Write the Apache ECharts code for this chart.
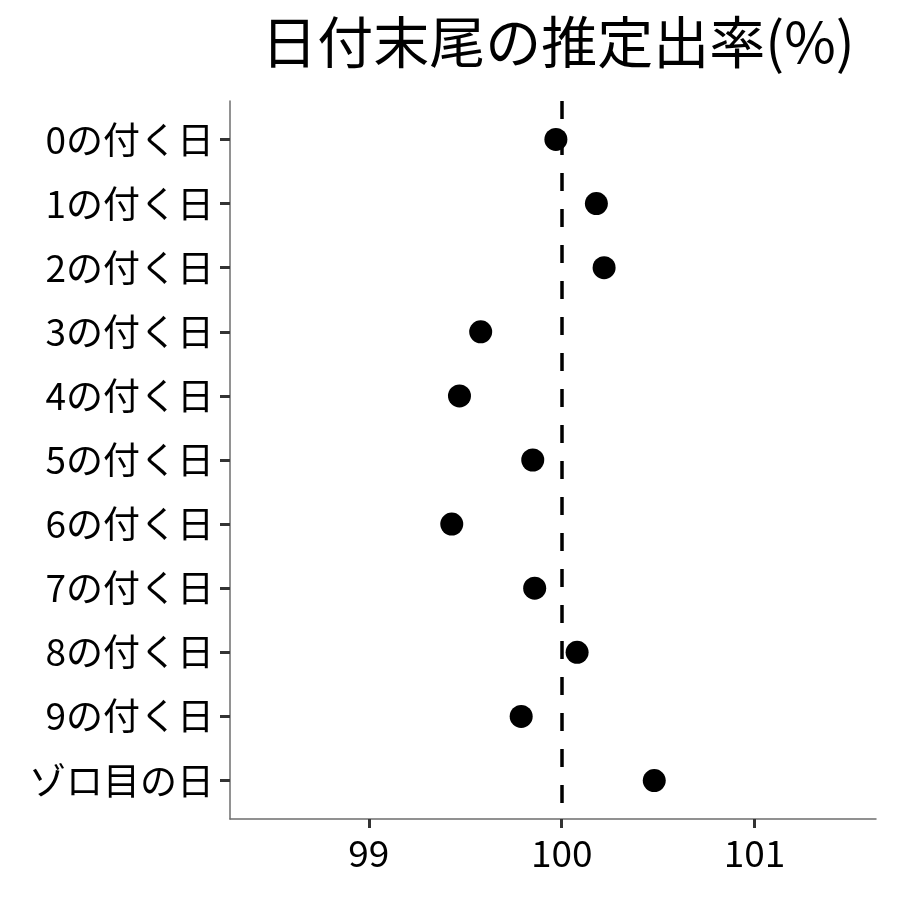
<!DOCTYPE html>
<html>
<head>
<meta charset="utf-8">
<script src="https://cdn.jsdelivr.net/npm/echarts@6/dist/echarts.min.js"></script>
<style>
html,body{margin:0;padding:0;background:#fff;}
#main{width:900px;height:900px;}
</style>
</head>
<body>
<div id="main"></div>
<script>
// カテゴリ（上から順）
var categories = ['0の付く日','1の付く日','2の付く日','3の付く日','4の付く日','5の付く日','6の付く日','7の付く日','8の付く日','9の付く日','ゾロ目の日'];
// 推定出率(%)
var rates = [99.97, 100.18, 100.22, 99.58, 99.47, 99.85, 99.43, 99.86, 100.08, 99.79, 100.48];
var xTicks = [99, 100, 101];
var refLine = 100;

var pts = [];
for (var i = 0; i < rates.length; i++) {
    pts.push([rates[i], i]);
}
var yIdx = categories.map(function (c, i) { return i; });

var font = '"Noto Sans CJK JP", "Noto Sans", sans-serif';
var myChart = echarts.init(document.getElementById('main'));
myChart.setOption({
    backgroundColor: '#fff',
    animation: false,
    title: {
        text: '日付末尾の推定出率(%)',
        left: 553,
        textAlign: 'center',
        top: 9,
        textStyle: {fontFamily: font, fontSize: 56, fontWeight: 'normal', color: '#000'}
    },
    grid: {left: 230, right: 24, top: 101, bottom: 81},
    xAxis: {
        type: 'value',
        min: 98.28,
        max: 101.63,
        interval: 1,
        axisLine: {show: true, onZero: false, lineStyle: {color: '#6e6e6e', width: 1.5}},
        axisTick: {show: true, length: 9, lineStyle: {color: '#333', width: 3}, customValues: xTicks},
        axisLabel: {
            customValues: xTicks,
            margin: 15,
            fontFamily: font, fontSize: 37, color: '#000'
        },
        splitLine: {show: false}
    },
    yAxis: {
        type: 'value',
        inverse: true,
        min: -0.6,
        max: 10.6,
        axisLine: {show: true, onZero: false, lineStyle: {color: '#6e6e6e', width: 1.5}},
        axisTick: {show: true, length: 10, lineStyle: {color: '#333', width: 3}, customValues: yIdx},
        axisLabel: {
            customValues: yIdx,
            formatter: function (v) { return categories[Math.round(v)]; },
            margin: 16,
            fontFamily: font, fontSize: 37, color: '#000'
        },
        splitLine: {show: false}
    },
    series: [{
        type: 'scatter',
        data: pts,
        symbolSize: 23,
        itemStyle: {color: '#000', opacity: 1},
        z: 3,
        markLine: {
            silent: true,
            symbol: 'none',
            label: {show: false},
            lineStyle: {color: '#000', width: 3.5, type: [18, 18], opacity: 1},
            data: [{xAxis: refLine}],
            z: 2
        }
    }]
});
</script>
</body>
</html>
